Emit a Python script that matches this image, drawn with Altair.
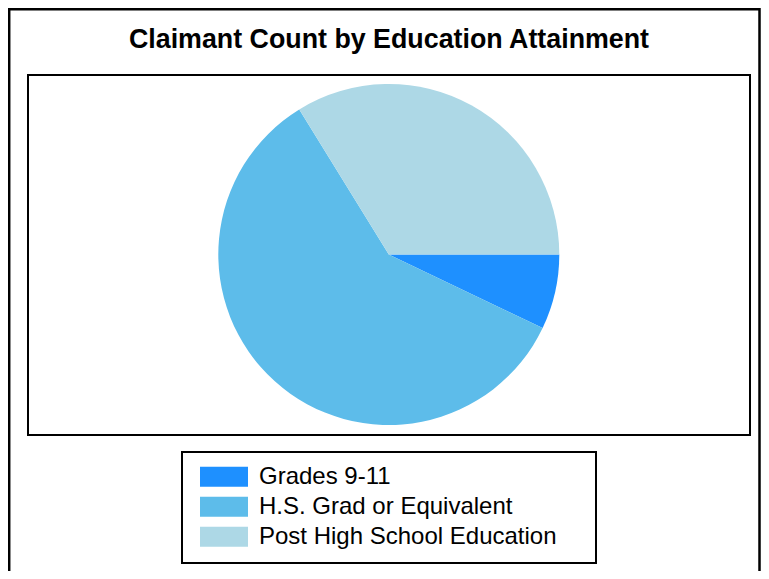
import math
import altair as alt
import pandas as pd

# Data (share of claimants, %)
categories = ["Grades 9-11", "H.S. Grad or Equivalent", "Post High School Education"]
values = [7.1, 59.1, 33.8]
colors = ["#1E90FF", "#5DBCEA", "#ADD8E6"]
title_text = "Claimant Count by Education Attainment"

df = pd.DataFrame({"category": categories, "value": values, "order": list(range(len(categories)))})

FONT = "Liberation Sans"

# outer frame
frame = alt.Chart(pd.DataFrame({"d": [0]})).mark_rect(
    filled=False, stroke="black", strokeWidth=2.5
).encode(x=alt.value(1.2), x2=alt.value(751.5), y=alt.value(1.2), y2=alt.value(640))

# plot-area box
plot_box = alt.Chart(pd.DataFrame({"d": [0]})).mark_rect(
    filled=False, stroke="black", strokeWidth=2
).encode(x=alt.value(20), x2=alt.value(742), y=alt.value(67), y2=alt.value(427))

# legend box
legend_box = alt.Chart(pd.DataFrame({"d": [0]})).mark_rect(
    filled=False, stroke="black", strokeWidth=2
).encode(x=alt.value(174), x2=alt.value(588), y=alt.value(444), y2=alt.value(555))

title = alt.Chart(pd.DataFrame({"t": [title_text]})).mark_text(
    font=FONT, fontSize=26.8, fontWeight="bold", align="center", baseline="alphabetic", color="black"
).encode(x=alt.value(381), y=alt.value(40), text="t:N")

pie = alt.Chart(df).mark_arc(radius=170.5).encode(
    theta=alt.Theta("value:Q", stack=True, scale=alt.Scale(range=[math.pi / 2, math.pi / 2 + 2 * math.pi])),
    order=alt.Order("order:Q"),
    color=alt.Color(
        "category:N",
        scale=alt.Scale(domain=categories, range=colors),
        legend=alt.Legend(
            title=None,
            orient="none",
            legendX=192,
            legendY=456.7,
            symbolType="M-2.4,-1H2.4V1H-2.4Z",
            symbolSize=400,
            symbolStrokeWidth=0,
            symbolOpacity=1,
            symbolOffset=12,
            labelOffset=23,
            labelFont=FONT,
            labelFontSize=24,
            labelColor="black",
            labelLimit=0,
            rowPadding=6,
            padding=0,
        ),
    ),
    x=alt.value(380.8),
    y=alt.value(246.5),
)

chart = alt.layer(frame, plot_box, legend_box, title, pie).properties(
    width=753, height=563, autosize=alt.AutoSizeParams(type="none"), padding=0
).configure_view(stroke=None)

chart.save("out.html", embed_options={"renderer": "svg", "actions": False})
